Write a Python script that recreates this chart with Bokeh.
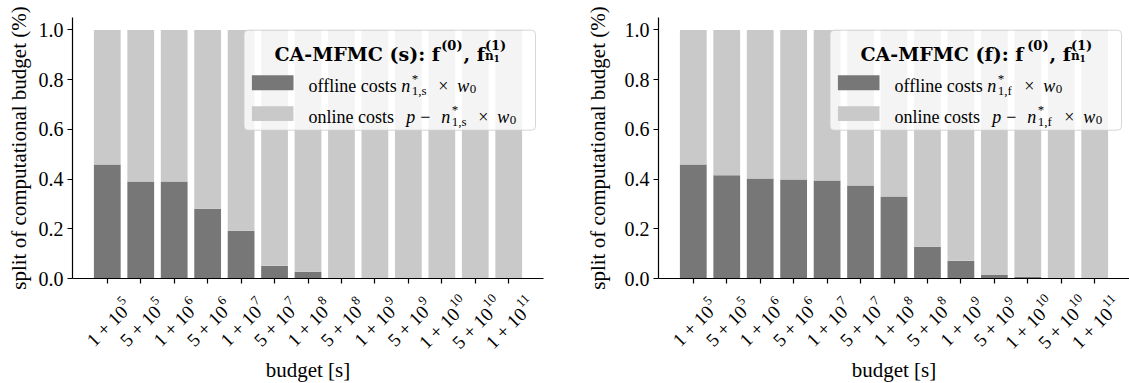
import math
from bokeh.plotting import figure
from bokeh.models import (Range1d, FixedTicker, PrintfTickFormatter, Label,
                          BoxAnnotation, ColumnDataSource)
from bokeh.layouts import row
from bokeh.embed import file_html
from bokeh.resources import INLINE

# ---------------- data ----------------
budget_mantissa = [1, 5, 1, 5, 1, 5, 1, 5, 1, 5, 1, 5, 1]
budget_exponent = [5, 5, 6, 6, 7, 7, 8, 8, 9, 9, 10, 10, 11]
offline_share_s = [0.459, 0.390, 0.390, 0.281, 0.192, 0.051, 0.027,
                   0.0, 0.0, 0.0, 0.0, 0.0, 0.0]
offline_share_f = [0.459, 0.415, 0.402, 0.398, 0.394, 0.374, 0.330,
                   0.128, 0.071, 0.014, 0.007, 0.0, 0.0]
y_ticks = [0.0, 0.2, 0.4, 0.6, 0.8, 1.0]
x_label = "budget [s]"
y_label = "split of computational budget (%)"
offline_text = "offline costs"
online_text = "online costs"

# ---------------- style ----------------
DARK = "#777777"
LIGHT = "#c9c9c9"
SERIF = "Liberation Serif"
TITLE_FONT = "DejaVu Serif"
X0, X1 = -1.04, 13.04
Y0, Y1 = 0.0, 1.05
FRAME_W, FRAME_H = 471, 261
TOP, BOTTOM = 17, 105
PPX = FRAME_W / (X1 - X0)
PPY = FRAME_H / (Y1 - Y0)
S2 = math.sqrt(2)


def fx(px):
    return X0 + px / PPX


def fy(py):
    return Y1 - py / PPY


def make_panel(offline, tag, width, pad_left, ylabel_standoff):
    pad_right = width - pad_left - FRAME_W
    xs = list(range(len(offline)))
    src = ColumnDataSource(dict(x=xs, offline=offline,
                                total=[o + (1 - o) for o in offline]))
    p = figure(width=width, height=383,
               x_range=Range1d(X0 - pad_left / PPX, X1 + pad_right / PPX),
               y_range=Range1d(Y0 - BOTTOM / PPY, Y1 + TOP / PPY),
               min_border=0, toolbar_location=None, output_backend="svg")
    p.outline_line_color = None
    p.grid.visible = False
    p.background_fill_color = "white"
    p.border_fill_color = "white"

    p.vbar(x="x", bottom=0, top="offline", width=0.8, source=src,
           fill_color=DARK, line_color=None)
    p.vbar(x="x", bottom="offline", top="total", width=0.8, source=src,
           fill_color=LIGHT, line_color=None)

    yax = p.yaxis[0]
    yax.fixed_location = X0
    yax.bounds = (Y0, Y1)
    yax.ticker = FixedTicker(ticks=y_ticks, minor_ticks=[])
    yax.formatter = PrintfTickFormatter(format="%.1f")
    yax.axis_label = y_label
    yax.axis_label_text_font = SERIF
    yax.axis_label_text_font_size = "21px"
    yax.axis_label_text_font_style = "normal"
    yax.axis_label_text_color = "black"
    yax.axis_label_standoff = ylabel_standoff
    yax.major_label_text_font = SERIF
    yax.major_label_text_font_size = "20px"
    yax.major_label_text_color = "black"
    yax.major_label_standoff = 4

    xax = p.xaxis[0]
    xax.fixed_location = 0
    xax.bounds = (X0, X1)
    xax.ticker = FixedTicker(ticks=xs, minor_ticks=[])
    xax.major_label_overrides = {i: "" for i in xs}
    for ax in (xax, yax):
        ax.axis_line_color = "black"
        ax.axis_line_width = 1.2
        ax.major_tick_line_color = "black"
        ax.major_tick_line_width = 1.2
        ax.major_tick_out = 5
        ax.major_tick_in = 0
        ax.minor_tick_out = 0
        ax.minor_tick_in = 0

    # rotated tick labels "m + 10^e"
    fs_main, fs_sup, raise_sup = 19, 13, 7.5
    for i, (m, e) in enumerate(zip(budget_mantissa, budget_exponent)):
        main = f"{m} + 10"
        sup = str(e)
        l_main = 2.564 * fs_main
        l_sup = 0.5 * fs_sup * len(sup)
        shift = (l_sup - 6.5) / 2 / S2
        plus_dx = -7 - shift
        plus_dn = 47.3 + shift
        a, b = 1.032 * fs_main, 0.253 * fs_main
        sdx = plus_dx - (a - b) / S2
        sdn = plus_dn + (a + b) / S2
        p.add_layout(Label(x=i, y=0, x_offset=sdx, y_offset=-sdn, text=main,
                           angle=math.pi / 4, text_align="left",
                           text_baseline="alphabetic", text_font=SERIF,
                           text_font_size=f"{fs_main}px", text_color="black"))
        p.add_layout(Label(x=i, y=0,
                           x_offset=sdx + (l_main + 0.5 - raise_sup) / S2,
                           y_offset=-sdn + (l_main + 0.5 + raise_sup) / S2,
                           text=sup, angle=math.pi / 4, text_align="left",
                           text_baseline="alphabetic", text_font=SERIF,
                           text_font_size=f"{fs_sup}px", text_color="black"))

    p.add_layout(Label(x=(X0 + X1) / 2, y=0, y_offset=-91, text=x_label,
                       text_align="center", text_baseline="middle",
                       text_font=SERIF, text_font_size="21px",
                       text_color="black"))

    # ---------------- legend ----------------
    p.add_layout(BoxAnnotation(left=fx(171.5), right=fx(463), top=fy(12.7),
                               bottom=fy(112.7), fill_color="white",
                               fill_alpha=0.8, line_color="#cccccc",
                               line_alpha=0.8, line_width=1, border_radius=4))
    p.add_layout(BoxAnnotation(left=fx(179.4), right=fx(221), top=fy(57.7),
                               bottom=fy(72.7), fill_color=DARK, fill_alpha=1,
                               line_color=None))
    p.add_layout(BoxAnnotation(left=fx(179.4), right=fx(221), top=fy(88.7),
                               bottom=fy(103.4), fill_color=LIGHT, fill_alpha=1,
                               line_color=None))

    def txt(px, py, s, size, style="normal", font=SERIF):
        p.add_layout(Label(x=fx(px), y=fy(py), text=s, text_font=font,
                           text_font_size=f"{size}px", text_font_style=style,
                           text_align="left", text_baseline="alphabetic",
                           text_color="black"))

    tb = 36.0
    txt(202, tb, f"CA-MFMC ({tag}): f", 19, "bold", TITLE_FONT)
    txt(368.7, tb - 8.5, "(0)", 13, "bold", TITLE_FONT)
    txt(391, tb, ", f", 19, "bold", TITLE_FONT)
    txt(412.4, tb - 8.5, "(1)", 13, "bold", TITLE_FONT)
    txt(412.4, tb + 2.5, "n", 12, "bold", TITLE_FONT)
    txt(421.0, tb + 4.5, "1", 9, "bold", TITLE_FONT)

    fs, fsub = 18, 13
    r1 = 68.4
    txt(236, r1, offline_text, fs)
    txt(328.7, r1, "n", fs, "italic")
    txt(339.2, r1 - 7, "*", fsub)
    txt(339.2, r1 + 5, f"1,{tag}", fsub)
    txt(365.7, r1, "\u00d7", fs)
    txt(384.7, r1, "w", fs, "italic")
    txt(397.2, r1 + 3, "0", fsub)

    r2 = 99.4
    txt(236, r2, online_text, fs)
    txt(333.7, r2, "p", fs, "italic")
    txt(347.7, r2, "\u2212", fs)
    txt(368.7, r2, "n", fs, "italic")
    txt(379.2, r2 - 7, "*", fsub)
    txt(379.2, r2 + 5, f"1,{tag}", fsub)
    txt(405.7, r2, "\u00d7", fs)
    txt(424.7, r2, "w", fs, "italic")
    txt(437.2, r2 + 3, "0", fsub)
    return p


p1 = make_panel(offline_share_s, "s", 560, 72, 5)
p2 = make_panel(offline_share_f, "f", 569, 98, 12)
layout = row(p1, p2, spacing=0)

open("out.html", "w").write(file_html(layout, INLINE))
